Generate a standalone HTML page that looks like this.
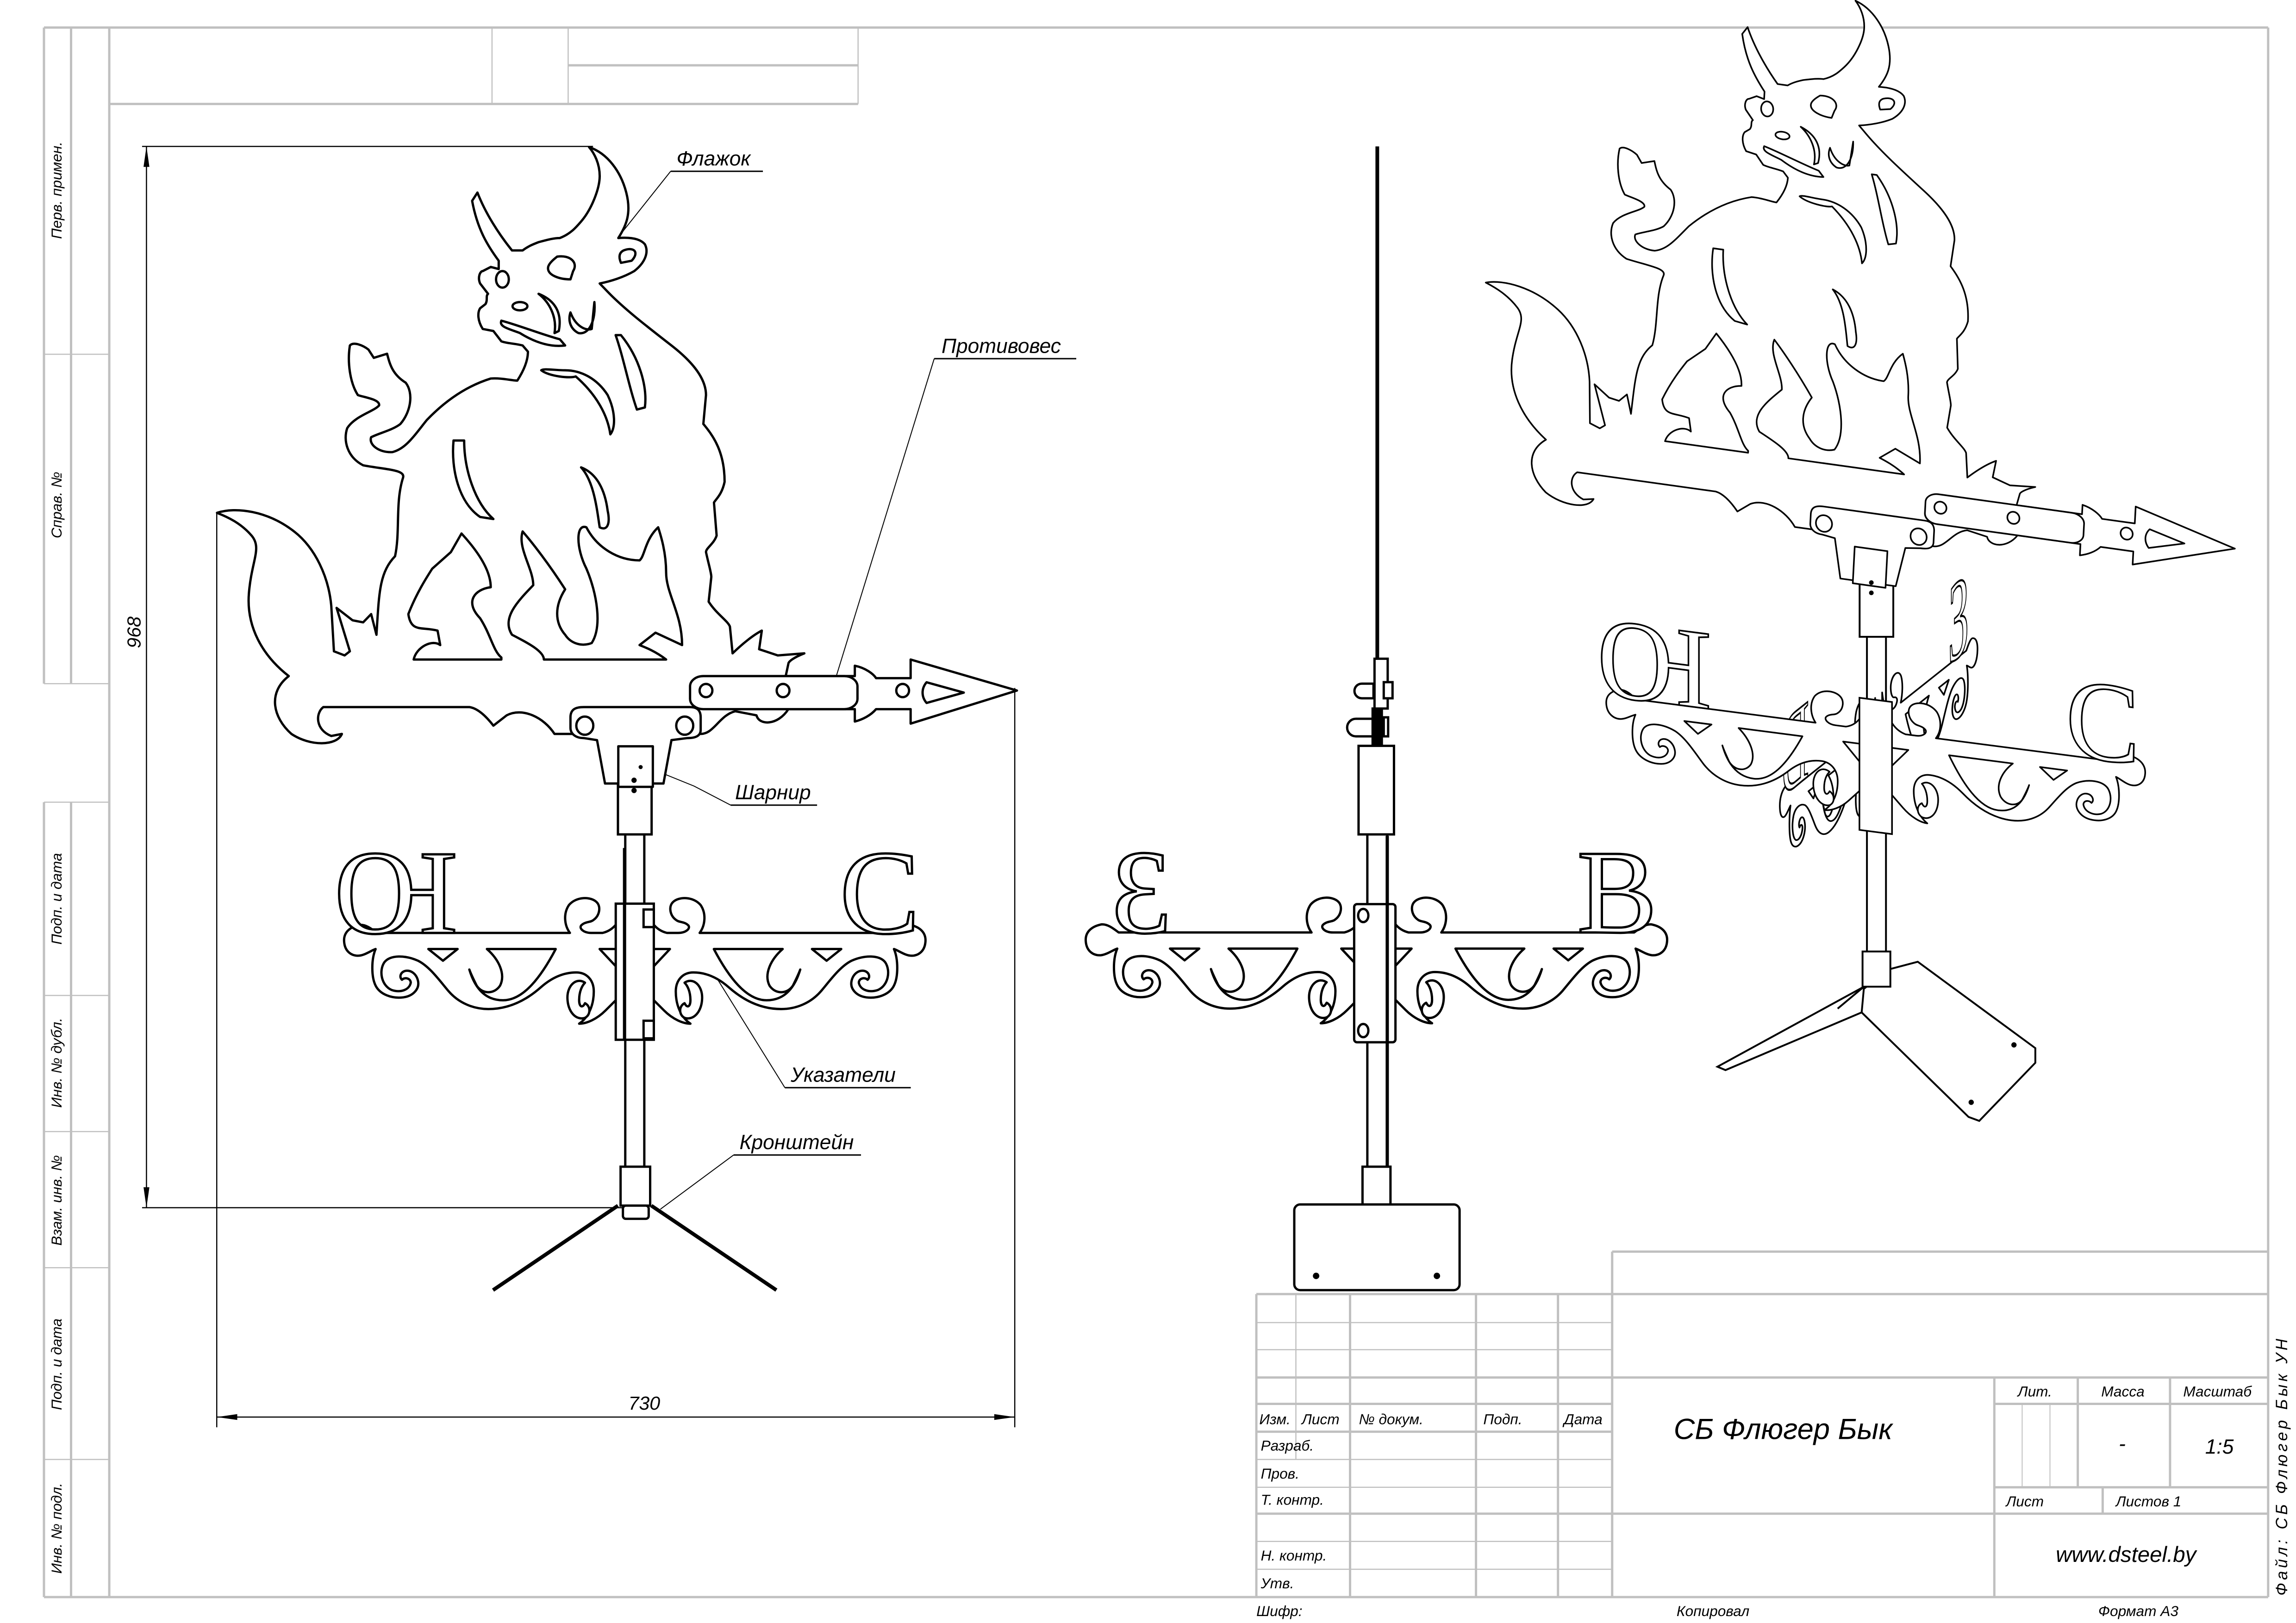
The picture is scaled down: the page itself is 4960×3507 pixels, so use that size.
<!DOCTYPE html>
<html><head><meta charset="utf-8">
<style>
html,body{margin:0;padding:0;background:#fff;}
svg{display:block}
svg *{vector-effect:non-scaling-stroke}
.g{stroke:#c0c0c0;fill:none}
.t{font-family:"Liberation Sans",sans-serif;font-style:italic;fill:#000}
</style></head><body>
<svg width="4960" height="3507" viewBox="0 0 1568 1108.7" xmlns="http://www.w3.org/2000/svg" xmlns:xlink="http://www.w3.org/1999/xlink">
<defs>
<g id="bullraw" fill="#fff" stroke="#000" stroke-linejoin="round">
<path d="M25,905 C60,890 120,900 170,950 C210,990 235,1060 240,1130 L245,1240 L265,1250 L275,1240 L250,1135 L280,1165 L300,1170 L315,1150 L325,1200 C330,1100 330,1050 360,1010 C370,950 360,880 375,820 C380,800 340,800 300,790 C270,770 262,730 270,700 C285,670 320,660 330,645 C332,630 300,625 290,620 C275,590 270,540 275,500 C282,490 300,500 310,510 L320,530 L345,520 C350,545 355,570 380,590 C395,615 390,660 370,690 C355,705 330,712 315,722 C310,740 330,760 355,758 C380,750 395,720 420,680 C450,640 490,600 540,580 C560,578 580,585 590,585 C600,565 610,540 610,515 L600,500 C585,495 570,495 560,490 L545,465 L525,460 C515,440 515,420 520,410 L530,400 C535,390 530,380 535,375 L520,350 C515,335 520,320 525,320 L540,310 L555,315 L555,295 C535,260 515,220 505,150 L515,130 C530,180 555,230 580,270 L600,270 C610,260 620,255 630,250 C650,243 660,240 670,240 C690,230 700,215 710,200 C730,170 745,120 745,90 C745,60 735,35 725,20 C760,35 785,80 795,130 C805,180 795,210 780,240 C800,238 820,240 830,255 C838,275 830,300 810,320 C790,335 765,345 745,350 L760,370 C790,410 830,450 880,500 C920,540 945,580 945,620 L940,690 C960,720 980,760 980,830 C975,860 965,870 960,880 L965,960 C960,980 945,990 945,1000 C950,1030 955,1050 955,1060 L950,1120 C965,1150 985,1165 990,1180 L995,1245 C1015,1220 1035,1200 1050,1190 L1045,1235 L1080,1250 L1130,1245 C1110,1255 1100,1265 1100,1270 L1095,1300 L1225,1300 L1225,1275 C1245,1280 1260,1295 1265,1305 L1330,1305 L1330,1260 L1530,1335 L1330,1415 L1330,1380 L1265,1380 C1255,1395 1240,1405 1225,1410 L1225,1380 L1100,1380 C1080,1420 1045,1420 1040,1395 L1000,1385 C970,1395 960,1440 935,1440 L660,1440 C640,1400 600,1375 570,1395 L545,1420 C530,1395 515,1378 500,1375 L225,1375 C210,1390 210,1430 240,1445 L260,1440 C250,1470 200,1470 165,1440 C130,1400 120,1340 160,1300 C110,1250 80,1180 85,1100 C90,1020 110,990 90,960 C70,930 45,915 25,905 Z"/>
<path d="M395,1260 C400,1230 430,1210 445,1225 L440,1190 C410,1180 390,1195 385,1150 C400,1100 420,1060 430,1040 L465,1000 L485,955 C510,990 540,1040 540,1085 C510,1090 490,1120 520,1160 C540,1200 545,1240 560,1255 L560,1260 Z"/>
<path d="M640,1260 L870,1260 C850,1240 830,1230 820,1225 L850,1195 L900,1225 C900,1150 870,1100 870,1050 C870,1000 860,960 855,940 C830,970 830,1010 820,1020 C780,1020 740,990 720,940 C700,930 700,990 720,1040 C740,1100 750,1180 730,1220 C710,1230 690,1220 680,1200 C660,1170 660,1130 680,1090 C650,1030 620,980 600,950 C590,990 620,1040 620,1080 C590,1120 560,1160 580,1200 C610,1220 640,1240 640,1260 Z"/>
<path d="M470,730 C465,800 480,880 520,915 L545,920 C510,880 490,800 490,730 Z"/>
<path d="M710,795 C735,830 740,900 745,940 C760,950 765,930 760,900 C755,850 740,810 710,795 Z"/>
<path d="M635,560 C650,575 690,580 700,575 C740,620 760,670 765,715 C775,700 775,660 760,620 C740,580 710,560 680,560 C660,560 640,555 635,560 Z"/>
<path d="M775,475 C790,530 800,600 815,655 L830,650 C835,600 820,530 785,475 Z"/>
<ellipse cx="562" cy="340" rx="12" ry="20"/>
<path d="M665,285 C690,280 705,300 695,320 L690,340 C670,340 645,330 648,310 C650,300 660,290 665,285 Z"/>
<ellipse cx="595" cy="405" rx="14" ry="10"/>
<path d="M560,440 C590,450 640,475 670,485 L680,500 C650,505 620,490 595,470 C575,460 555,455 560,440 Z"/>
<path d="M630,375 C650,395 665,430 660,470 L668,465 C675,420 660,390 630,375 Z"/>
<path d="M690,420 C700,455 720,465 730,460 L735,395 C738,440 725,475 705,470 C690,460 685,440 690,420 Z"/>
<path d="M790,270 C810,260 820,275 805,295 L785,300 C780,285 782,275 790,270 Z"/>
<rect x="915" y="1300" width="315" height="80" rx="25"/>
<ellipse cx="945" cy="1335" rx="12" ry="16"/>
<ellipse cx="1090" cy="1335" rx="12" ry="16"/>
<ellipse cx="1315" cy="1335" rx="12" ry="16"/>
<path d="M1360,1315 L1430,1340 L1360,1365 C1350,1350 1350,1330 1360,1315 Z"/>
<path d="M690,1400 C690,1380 700,1375 715,1375 L915,1375 C930,1375 935,1385 935,1400 L935,1430 C935,1445 925,1450 910,1450 L880,1455 L865,1560 L755,1560 L740,1455 L715,1450 C700,1450 690,1440 690,1425 Z"/>
<ellipse cx="717" cy="1420" rx="16" ry="22"/>
<ellipse cx="905" cy="1420" rx="16" ry="22"/>
<rect x="780" y="1470" width="65" height="98"/>
</g>
<g id="halfarm" fill="#fff" stroke="#000" stroke-linejoin="round">
<path d="M7,-18 C10,-8 14,-2 22,0 L29.6,0 C35,0 38,-3 36.7,-5 C34,-8 30,-7 28,-9 C24,-12 23,-18 26,-21 C30,-25 40,-25 45,-19 C49,-13 48,-5 44.3,0 L176,0 C180,-3 184,-6 188,-5.5 C195,-4 199,0 198.5,6 C198,13 193,16 188,15.5 C184,15 180,12 177,11 C180,18 180,30 177,36 C174,42 166,45 158,44 C151,43 147,38 148,33 C149,28 153,25 157,26 C160,27 161,30 159,32 C157,30 153,31 153,34 C154,39 160,41 166,39 C173,36 175,26 171,20 C167,15 157,15 148,19 C140,23 133,33 127,40 C120,48 110,52 100,52 C85,52 73,45 64,37 C56,30 48,27 40,27 C33,27 28,32 28,40 C28,50 32,58 38,62 C33,62 26,59 20,53 C15,48 11,44 7,40 Z"/>
<path d="M9,11 L24,11 L9,27 Z"/>
<path d="M54,11 L101,11 C93,18 88,28 92,36 C96,42 104,42 108,36 C110,32 112,28 113,25 C110,35 104,46 90,46 C76,46 64,30 54,11 Z"/>
<path d="M121,11 L141,11 L131,19 Z"/>
<path d="M34,34 C40,30 46,36 46,44 C46,54 40,60 34,58 C30,56 30,50 34,48 C36,52 38,50 38,46 C38,40 36,36 34,34 Z"/>
</g>
<g id="arms"><use xlink:href="#halfarm"/><g transform="scale(-1,1)"><use xlink:href="#halfarm"/></g></g>
</defs>

<!-- frame -->
<g class="g">
<line x1="30" y1="18.8" x2="1549" y2="18.8" stroke-width="5"/>
<line x1="1549" y1="18.8" x2="1549" y2="1091" stroke-width="5"/>
<line x1="30" y1="1091" x2="1549" y2="1091" stroke-width="5"/>
<line x1="74.6" y1="18.8" x2="74.6" y2="1091" stroke-width="5"/>
<line x1="30" y1="18.8" x2="30" y2="467" stroke-width="5"/>
<line x1="48.5" y1="18.8" x2="48.5" y2="467" stroke-width="5"/>
<line x1="30" y1="548" x2="30" y2="1091" stroke-width="5"/>
<line x1="48.5" y1="548" x2="48.5" y2="1091" stroke-width="5"/>
<line x1="30" y1="242" x2="74.6" y2="242" stroke-width="2.5"/>
<line x1="30" y1="467" x2="74.6" y2="467" stroke-width="2.5"/>
<line x1="30" y1="548" x2="74.6" y2="548" stroke-width="2.5"/>
<line x1="30" y1="680" x2="74.6" y2="680" stroke-width="2.5"/>
<line x1="30" y1="773" x2="74.6" y2="773" stroke-width="2.5"/>
<line x1="30" y1="866" x2="74.6" y2="866" stroke-width="2.5"/>
<line x1="30" y1="997" x2="74.6" y2="997" stroke-width="2.5"/>
<line x1="74.6" y1="71" x2="586" y2="71" stroke-width="5"/>
<line x1="336" y1="18.8" x2="336" y2="71" stroke-width="2.5"/>
<line x1="388" y1="18.8" x2="388" y2="71" stroke-width="2.5"/>
<line x1="586" y1="18.8" x2="586" y2="71" stroke-width="2.5"/>
<line x1="388" y1="44.6" x2="586" y2="44.6" stroke-width="5"/>
<!-- title block -->
<line x1="1101" y1="855" x2="1549" y2="855" stroke-width="5"/>
<line x1="1101" y1="855" x2="1101" y2="1091" stroke-width="5"/>
<line x1="858" y1="884" x2="1549" y2="884" stroke-width="5"/>
<line x1="858" y1="884" x2="858" y2="1091" stroke-width="5"/>
<line x1="885" y1="884" x2="885" y2="997" stroke-width="2.5"/>
<line x1="922" y1="884" x2="922" y2="1091" stroke-width="5"/>
<line x1="1008" y1="884" x2="1008" y2="1091" stroke-width="5"/>
<line x1="1064" y1="884" x2="1064" y2="1091" stroke-width="5"/>
<line x1="858" y1="903.5" x2="1101" y2="903.5" stroke-width="2.5"/>
<line x1="858" y1="922" x2="1101" y2="922" stroke-width="2.5"/>
<line x1="858" y1="941" x2="1549" y2="941" stroke-width="5"/>
<line x1="858" y1="959" x2="1101" y2="959" stroke-width="5"/>
<line x1="858" y1="978" x2="1101" y2="978" stroke-width="5"/>
<line x1="858" y1="997" x2="1101" y2="997" stroke-width="2.5"/>
<line x1="858" y1="1016" x2="1101" y2="1016" stroke-width="2.5"/>
<line x1="858" y1="1034" x2="1549" y2="1034" stroke-width="5"/>
<line x1="858" y1="1053" x2="1101" y2="1053" stroke-width="2.5"/>
<line x1="858" y1="1072" x2="1101" y2="1072" stroke-width="2.5"/>
<line x1="1362" y1="941" x2="1362" y2="1091" stroke-width="5"/>
<line x1="1419" y1="941" x2="1419" y2="1016" stroke-width="5"/>
<line x1="1482" y1="941" x2="1482" y2="1016" stroke-width="5"/>
<line x1="1362" y1="959" x2="1549" y2="959" stroke-width="5"/>
<line x1="1362" y1="1016" x2="1549" y2="1016" stroke-width="5"/>
<line x1="1381" y1="959" x2="1381" y2="1016" stroke-width="2"/>
<line x1="1400" y1="959" x2="1400" y2="1016" stroke-width="2"/>
<line x1="1436" y1="1016" x2="1436" y2="1034" stroke-width="5"/>
</g>

<!-- left strip labels -->
<g class="t" font-size="10">
<text transform="translate(42,130) rotate(-90)" text-anchor="middle">Перв. примен.</text>
<text transform="translate(42,345) rotate(-90)" text-anchor="middle">Справ. №</text>
<text transform="translate(42,614) rotate(-90)" text-anchor="middle">Подп. и дата</text>
<text transform="translate(42,726) rotate(-90)" text-anchor="middle">Инв. № дубл.</text>
<text transform="translate(42,820) rotate(-90)" text-anchor="middle">Взам. инв. №</text>
<text transform="translate(42,932) rotate(-90)" text-anchor="middle">Подп. и дата</text>
<text transform="translate(42,1044) rotate(-90)" text-anchor="middle">Инв. № подл.</text>
</g>

<!-- title block text -->
<g class="t" font-size="10">
<text x="860" y="973">Изм.</text>
<text x="889" y="973">Лист</text>
<text x="928" y="973">№ докум.</text>
<text x="1013" y="973">Подп.</text>
<text x="1068" y="973">Дата</text>
<text x="861" y="991">Разраб.</text>
<text x="861" y="1010">Пров.</text>
<text x="861" y="1028">Т. контр.</text>
<text x="861" y="1066">Н. контр.</text>
<text x="861" y="1085">Утв.</text>
<text x="858" y="1104">Шифр:</text>
<text x="1145" y="1104">Копировал</text>
<text x="1433" y="1104">Формат А3</text>
<text x="1378" y="954">Лит.</text>
<text x="1435" y="954">Масса</text>
<text x="1491" y="954">Масштаб</text>
<text x="1370" y="1029">Лист</text>
<text x="1445" y="1029">Листов 1</text>
<text x="1447" y="991" font-size="14">-</text>
<text x="1506" y="993" font-size="14">1:5</text>
<text x="1404" y="1067" font-size="15">www.dsteel.by</text>
<text x="1143" y="983" font-size="20">СБ Флюгер Бык</text>
<text transform="translate(1562,1090) rotate(-90)" font-size="11" letter-spacing="2">Файл: СБ Флюгер Бык УН</text>
</g>

<!-- dimensions -->
<g stroke="#000" stroke-width="2.5" fill="none">
<line x1="97" y1="100" x2="405" y2="100"/>
<line x1="97" y1="825" x2="430" y2="825"/>
<line x1="100" y1="100" x2="100" y2="825"/>
<line x1="148" y1="350" x2="148" y2="975"/>
<line x1="693" y1="470" x2="693" y2="975"/>
<line x1="148" y1="968" x2="693" y2="968"/>
</g>
<g fill="#000">
<path d="M100,100 L98,114 L102,114 Z"/>
<path d="M100,825 L98,811 L102,811 Z"/>
<path d="M148,968 L162,966 L162,970 Z"/>
<path d="M693,968 L679,966 L679,970 Z"/>
</g>
<g class="t" font-size="13">
<text transform="translate(96,432) rotate(-90)" text-anchor="middle">968</text>
<text x="440" y="963" text-anchor="middle">730</text>
</g>

<!-- leaders -->
<g stroke="#000" stroke-width="2" fill="none">
<line x1="458" y1="117" x2="521" y2="117" stroke-width="3"/>
<line x1="458" y1="117" x2="392" y2="200"/>
<line x1="638" y1="245" x2="735" y2="245" stroke-width="3"/>
<line x1="638" y1="245" x2="568" y2="472"/>
<line x1="499" y1="550" x2="558" y2="550" stroke-width="3"/>
<polyline points="499,550 474,537 437,522"/>
<line x1="536" y1="743" x2="622" y2="743" stroke-width="3"/>
<line x1="536" y1="743" x2="478.6" y2="650.6"/>
<line x1="501" y1="789" x2="588" y2="789" stroke-width="3"/>
<line x1="501" y1="789" x2="451" y2="826"/>
</g>
<g fill="#000"><circle cx="392" cy="200" r="1.5"/><circle cx="568" cy="472" r="1.5"/><circle cx="478.6" cy="650.6" r="1.5"/></g>
<g class="t" font-size="14">
<text x="462" y="113">Флажок</text>
<text x="643" y="241">Противовес</text>
<text x="502" y="546">Шарнир</text>
<text x="540" y="739">Указатели</text>
<text x="505" y="785">Кронштейн</text>
</g>

<!-- FRONT VIEW -->
<g stroke="#000" fill="#fff" stroke-width="5">
<line x1="422" y1="823.6" x2="336.7" y2="881.3" stroke-width="8"/>
<line x1="444.8" y1="823.6" x2="530.2" y2="881.3" stroke-width="8"/>
<rect x="427" y="565" width="13" height="232"/>
<rect x="423.8" y="797" width="20.2" height="26.6"/>
<rect x="425.4" y="823.6" width="17.6" height="9" rx="2"/>
<rect x="422" y="510" width="23" height="60"/>
</g>
<g transform="translate(433.5,637.3)" stroke-width="5">
<use xlink:href="#arms"/>
<g font-family="Liberation Serif,serif" font-size="82" fill="#fff" stroke="#000">
<g transform="scale(-1,1)"><text x="121" y="0">Ю</text></g>
<text x="140" y="0">С</text>
</g>
<rect x="-13" y="-20" width="26" height="93" fill="#fff" stroke="#000"/>
<rect x="6" y="-16" width="7" height="12" fill="#fff" stroke="#000"/>
<rect x="6" y="60" width="7" height="12" fill="#fff" stroke="#000"/>
<line x1="-7" y1="-58" x2="-7" y2="73" stroke="#000" stroke-width="7"/>
</g>
<g transform="translate(139.1,94.85) scale(0.363,0.2823)" stroke-width="5"><use xlink:href="#bullraw"/></g>
<g fill="#000"><circle cx="437.5" cy="524" r="1.4"/><circle cx="433" cy="533" r="1.8"/><circle cx="433" cy="540" r="1.8"/></g>

<!-- SIDE VIEW -->
<g stroke="#000" fill="#fff" stroke-width="5">
<line x1="940.6" y1="100" x2="940.6" y2="450" stroke-width="8"/>
<rect x="938.7" y="450" width="9" height="34"/>
<path d="M938,467 L930,467 A5,5 0 0 0 930,477 L938,477 Z"/>
<path d="M938,491 L926,491 A6,6 0 0 0 926,503 L938,503 Z"/>
<rect x="945" y="466" width="6" height="11"/>
<rect x="945" y="490" width="3" height="13"/>
<rect x="937.4" y="484" width="6.3" height="52" fill="#000"/>
<rect x="927.8" y="509.5" width="24.2" height="60.5"/>
<rect x="933.8" y="570" width="13.6" height="227"/>
<rect x="930.5" y="797" width="19.1" height="26"/>
<rect x="883.9" y="822.8" width="112.9" height="58.5" rx="4"/>
</g>
<g fill="#000"><circle cx="898.8" cy="871.6" r="2.2"/><circle cx="981.3" cy="871.6" r="2.2"/></g>
<g transform="translate(940,637)" stroke-width="5">
<use xlink:href="#arms"/>
<g font-family="Liberation Serif,serif" font-size="82" fill="#fff" stroke="#000">
<g transform="scale(-1,1)"><text x="140" y="0">З</text></g>
<text x="137" y="0">В</text>
</g>
<rect x="-15.2" y="-19.4" width="28.2" height="94.4" rx="2" fill="#fff" stroke="#000"/>
<ellipse cx="-9" cy="-11.6" rx="3.5" ry="4.5" fill="#fff" stroke="#000"/>
<ellipse cx="-9" cy="67" rx="3.5" ry="4.5" fill="#fff" stroke="#000"/>
<line x1="7.4" y1="-66" x2="7.4" y2="160" stroke="#000" stroke-width="7"/>
</g>

<!-- ISO VIEW -->
<g stroke="#000" fill="#fff" stroke-width="4">
<path d="M1290.7,662 L1309.7,657 L1390,716 L1390,726 L1351.7,765.7 L1344.4,763 L1271.4,691.6 L1255,689 Z"/>
<path d="M1273,674 L1172.9,728.7 L1178.4,731 L1271.4,691.6 Z"/>
<line x1="1255" y1="689" x2="1273" y2="674"/>
<rect x="1275" y="435" width="13" height="217"/>
<rect x="1272" y="650" width="19" height="24"/>
</g>
<g fill="#000"><circle cx="1375.4" cy="713.8" r="1.8"/><circle cx="1346.2" cy="753" r="1.8"/></g>
<g transform="matrix(0.34,-0.27,0,0.95,1283,492)" stroke-width="3.5">
<use xlink:href="#arms"/>
<g font-family="Liberation Serif,serif" font-size="82" fill="#fff" stroke="#000">
<text x="140" y="0">З</text>
<g transform="scale(-1,1)"><text x="140" y="0">В</text></g>
</g>
</g>
<g transform="matrix(0.927,0.12,0,0.95,1281,499)" stroke-width="3.5">
<use xlink:href="#arms"/>
<g font-family="Liberation Serif,serif" font-size="82" fill="#fff" stroke="#000">
<g transform="scale(-1,1)"><text x="121" y="0">Ю</text></g>
<text x="140" y="0">С</text>
</g>
<rect x="-12" y="-22" width="24" height="95" fill="#fff" stroke="#000"/>
</g>
<rect x="1270" y="377" width="23" height="58" fill="#fff" stroke="#000" stroke-width="4"/>
<g transform="matrix(0.947,0.1317,-0.0475,0.9046,891,-143.4)" stroke-width="3.5">
<g transform="translate(139.1,94.85) scale(0.363,0.2823)"><use xlink:href="#bullraw"/></g>
</g>
<g fill="#000"><circle cx="1278" cy="398" r="1.6"/><circle cx="1278" cy="405" r="1.6"/></g>
</svg>
</body></html>
